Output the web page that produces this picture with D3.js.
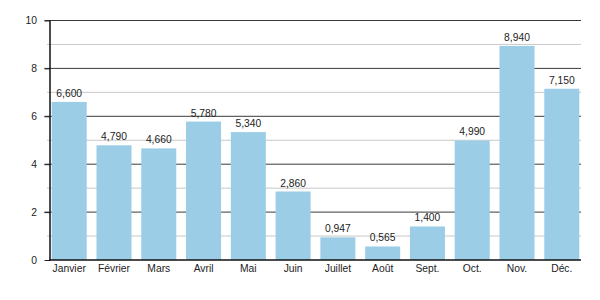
<!DOCTYPE html>
<html><head><meta charset="utf-8">
<script src="https://cdn.jsdelivr.net/npm/d3@7"></script>
<style>body{margin:0;background:#fff}text{font-family:"Liberation Sans",Arial,sans-serif;fill:#222}</style>
</head><body>
<svg id="c" width="600" height="300"></svg>
<script>
const months = ["Janvier","Février","Mars","Avril","Mai","Juin","Juillet","Août","Sept.","Oct.","Nov.","Déc."];
const values = [6.600,4.790,4.660,5.780,5.340,2.860,0.947,0.565,1.400,4.990,8.940,7.150];
const labels = ["6,600","4,790","4,660","5,780","5,340","2,860","0,947","0,565","1,400","4,990","8,940","7,150"];
const majorTicks = [0,2,4,6,8,10];
const minorTicks = [1,3,5,7,9];

const svg = d3.select("#c");
const L = 50, R = 581, T = 20.5, B = 260;
const FS = 10.3;
const x = d3.scaleBand().domain(months).range([L, R]).paddingInner(0.218).paddingOuter(0.038);
const y = d3.scaleLinear().domain([0,10]).range([B, T]);

// minor gridlines
svg.append("g").selectAll("line").data(minorTicks).join("line")
  .attr("x1", L-3).attr("x2", R).attr("y1", d=>y(d)).attr("y2", d=>y(d))
  .attr("stroke", "#c8c8c8").attr("stroke-width", 1);
// major gridlines
svg.append("g").selectAll("line").data(majorTicks.filter(d=>d>0)).join("line")
  .attr("x1", L-5.5).attr("x2", R).attr("y1", d=>y(d)).attr("y2", d=>y(d))
  .attr("stroke", "#3a3a3a").attr("stroke-width", 1);

// bars
svg.append("g").selectAll("rect").data(values).join("rect")
  .attr("x", (d,i)=>x(months[i])).attr("width", x.bandwidth())
  .attr("y", d=>y(d)).attr("height", d=>B - y(d))
  .attr("fill", "#9ccde6");

// value labels
svg.append("g").selectAll("text").data(values).join("text")
  .attr("x", (d,i)=>x(months[i]) + x.bandwidth()/2).attr("y", d=>y(d)-5)
  .attr("text-anchor","middle").attr("font-size", FS).text((d,i)=>labels[i]);

// y axis
const yAxis = d3.axisLeft(y).tickValues(majorTicks).tickSize(5.5).tickPadding(7.5).tickFormat(d3.format("d"));
const gy = svg.append("g").attr("transform", `translate(${L},0)`).call(yAxis);
gy.select(".domain").remove();
gy.selectAll(".tick line").attr("stroke", "#222");
gy.selectAll("text").attr("font-size", FS).style("font-family", '"Liberation Sans",Arial,sans-serif').attr("fill","#222");
svg.append("line").attr("x1", L).attr("x2", L).attr("y1", T).attr("y2", B+0.75)
  .attr("stroke", "#111").attr("stroke-width", 1.5);

// x axis
const xAxis = d3.axisBottom(x).tickSize(0).tickPadding(5);
const gx = svg.append("g").attr("transform", `translate(0,${B})`).call(xAxis);
gx.select(".domain").remove();
gx.selectAll("text").attr("font-size", FS).style("font-family", '"Liberation Sans",Arial,sans-serif').attr("fill","#222");
svg.append("line").attr("x1", L-0.75).attr("x2", R).attr("y1", B).attr("y2", B)
  .attr("stroke", "#111").attr("stroke-width", 1.5);
</script>
</body></html>
